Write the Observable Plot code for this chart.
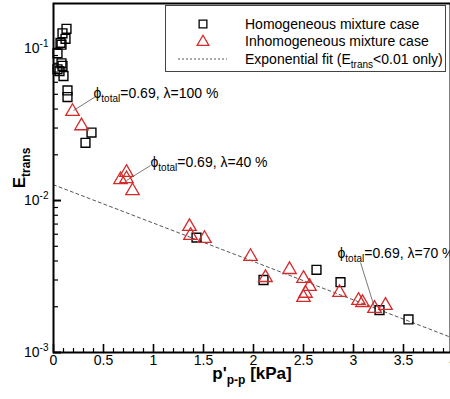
<!DOCTYPE html>
<html><head><meta charset="utf-8">
<script src="https://cdn.jsdelivr.net/npm/d3@7"></script>
<script src="https://cdn.jsdelivr.net/npm/@observablehq/plot@0.6"></script>
<style>
body{margin:0;background:#fff;}
#wrap{position:relative;width:450px;height:399px;overflow:hidden;font-family:Arial,"Liberation Sans",sans-serif;}
#legend{position:absolute;left:0;top:0;}
</style></head><body><div id="wrap"></div>
<script>
// Homogeneous mixture case (squares)
const homX = [0.13,0.09,0.12,0.07,0.08,0.04,0.08,0.09,0.04,0.06,0.10,0.14,0.14,0.38,0.32,1.43,2.10,2.63,2.87,3.26,3.55];
const homY = [0.135,0.126,0.116,0.109,0.106,0.093,0.080,0.077,0.073,0.071,0.066,0.053,0.048,0.028,0.024,0.0057,0.0030,0.0035,0.0029,0.0019,0.00165];
// Inhomogeneous mixture case (triangles)
const inhX = [0.19,0.28,0.73,0.67,0.73,0.79,1.36,1.37,1.51,1.97,2.12,2.36,2.50,2.56,2.52,2.50,2.86,3.05,3.09,3.21,3.32];
const inhY = [0.0385,0.031,0.0153,0.0137,0.0139,0.0116,0.00674,0.00589,0.00562,0.00428,0.00311,0.00351,0.00307,0.00272,0.00245,0.00230,0.00248,0.00220,0.00213,0.00195,0.00204];
// Exponential fit (E_trans < 0.01 only)
const fitX = [0, 4];
const fitY = [0.0127, 0.00124];
// ticks
const xTicks = [0,0.5,1,1.5,2,2.5,3,3.5,4];
const xTickLabels = ["0","0.5","1","1.5","2","2.5","3","3.5","4"];
const xMinor = [0.1,0.2,0.3,0.4,0.6,0.7,0.8,0.9,1.1,1.2,1.3,1.4,1.6,1.7,1.8,1.9,2.1,2.2,2.3,2.4,2.6,2.7,2.8,2.9,3.1,3.2,3.3,3.4,3.6,3.7,3.8,3.9];
const yTicks = [0.001,0.01,0.1];
const yTickLabels = ["10^{-3}","10^{-2}","10^{-1}"];
const yMinor = [0.002,0.003,0.004,0.005,0.006,0.007,0.008,0.009,0.02,0.03,0.04,0.05,0.06,0.07,0.08,0.09];
// annotations
const annoText = ["ϕ_{total}=0.69, λ=100 %","ϕ_{total}=0.69, λ=40 %","ϕ_{total}=0.69, λ=70 %"];
const annoX = [0.40,0.97,2.84];
const annoY = [0.0506,0.0178,0.00448];
const leadX1 = [0.20,0.73,3.07];
const leadY1 = [0.0391,0.01355,0.00391];
const leadX2 = [0.42,0.97,3.21];
const leadY2 = [0.0483,0.0170,0.00198];
// labels
const xLabel = "p'_{p-p} [kPa]";
const yLabel = "E_{trans}";
const legendLabels = ["Homogeneous mixture case","Inhomogeneous mixture case","Exponential fit (E_{trans}<0.01 only)"];

const RED = "#d42a2a";
const hom = homX.map((x,i)=>({x, y:homY[i]}));
const inh = inhX.map((x,i)=>({x, y:inhY[i]}));
const fit = fitX.map((x,i)=>({x, y:fitY[i]}));
const anno = annoText.map((t,i)=>({t, x:annoX[i], y:annoY[i]}));
const leads = leadX1.map((x1,i)=>({x1, y1:leadY1[i], x2:leadX2[i], y2:leadY2[i]}));
const yLab = yTicks.map((v,i)=>({v, t:yTickLabels[i]}));
const xLab = xTicks.map((v,i)=>({v, t:xTickLabels[i]}));

const chart = Plot.plot({
  width: 450, height: 399,
  marginLeft: 53, marginTop: 3, marginBottom: 47, marginRight: 0,
  x: {domain:[0,4], range:[53,453]},
  y: {type:"log", domain:[0.001, 0.198]},
  style: {fontFamily: "Arial, 'Liberation Sans', sans-serif", fontSize: "14px", background:"#fff", color:"#000"},
  marks: [
    Plot.line(fit, {x:"x", y:"y", stroke:"#555", strokeWidth:1, strokeDasharray:"3,3", clip:true}),
    Plot.link(leads, {x1:"x1", y1:"y1", x2:"x2", y2:"y2", stroke:"#555", strokeWidth:0.8}),
    Plot.dot(hom, {x:"x", y:"y", symbol:"square", r:5, stroke:"#000", strokeWidth:1.4, fill:"none"}),
    Plot.dot(inh, {x:"x", y:"y", symbol:"triangle", r:5, stroke:RED, strokeWidth:1.3, fill:"none"}),
    Plot.text(anno, {x:"x", y:"y", text:"t", textAnchor:"start", fontSize:14, fill:"#000"}),
    Plot.axisX(xMinor, {tickSize:-4, text:null, stroke:"#000", strokeWidth:1.2}),
    Plot.axisX(xTicks, {tickSize:-8, text:null, stroke:"#000", strokeWidth:1.6}),
    Plot.text(xLab, {x:"v", text:"t", frameAnchor:"bottom", lineAnchor:"top", textAnchor:"middle", dy:3, fontSize:14, fill:"#000"}),
    Plot.axisY(yMinor, {tickSize:-5, text:null, stroke:"#000", strokeWidth:1.2}),
    Plot.axisY(yTicks, {tickSize:-8, text:null, stroke:"#000", strokeWidth:2}),
    Plot.text(yLab, {y:"v", text:"t", frameAnchor:"left", dx:-5, textAnchor:"end", lineAnchor:"middle", fontSize:14, fill:"#000"}),
    Plot.frame({stroke:"#000", strokeWidth:2}),
    Plot.text([xLabel], {frameAnchor:"bottom", lineAnchor:"middle", textAnchor:"middle", dy:21, fontSize:17, fontWeight:"bold"}),
    Plot.text([yLabel], {frameAnchor:"left", textAnchor:"middle", lineAnchor:"middle", dx:-34, dy:-10, rotate:-90, fontSize:17, fontWeight:"bold"})
  ]
});

const wrap = document.getElementById("wrap");
wrap.appendChild(chart);

// legend overlay
const lg = d3.select(wrap).append("svg").attr("id","legend").attr("width",450).attr("height",80)
  .style("font-family","Arial, 'Liberation Sans', sans-serif").style("font-size","14px");
lg.append("rect").attr("x",165.5).attr("y",5.5).attr("width",280).attr("height",66).attr("fill","#fff").attr("stroke","#444").attr("stroke-width",1);
lg.append("path").attr("d", d3.symbol(d3.symbolSquare, 60)()).attr("transform","translate(203,24)").attr("fill","none").attr("stroke","#000").attr("stroke-width",1.3);
lg.append("path").attr("d", d3.symbol(d3.symbolTriangle, 60)()).attr("transform","translate(203,42)").attr("fill","none").attr("stroke",RED).attr("stroke-width",1.3);
lg.append("line").attr("x1",178).attr("x2",227).attr("y1",59).attr("y2",59).attr("stroke","#555").attr("stroke-dasharray","2,2");
legendLabels.forEach((t,i)=>{
  lg.append("text").attr("x",245).attr("y",24+i*17.5).attr("dy","0.35em").text(t);
});

// rich text: _{sub} and ^{sup}
const NS = "http://www.w3.org/2000/svg";
function rich(el){
  const s = el.textContent;
  if(!/[_^]\{/.test(s)) return;
  const fs = parseFloat(getComputedStyle(el).fontSize) || 14;
  const small = Math.round(fs*0.7);
  while(el.firstChild) el.removeChild(el.firstChild);
  const re = /([_^])\{([^}]*)\}/g;
  let last = 0, m;
  const add = (txt, dy, size) => {
    const t = document.createElementNS(NS,"tspan");
    t.textContent = txt;
    if (dy) t.setAttribute("dy", dy);
    if (size) t.setAttribute("font-size", size);
    el.appendChild(t);
  };
  let pending = 0;
  while((m = re.exec(s))){
    if(m.index > last){ add(s.slice(last,m.index), pending||null, null); pending=0; }
    const sh = m[1]==="_" ? fs*0.3 : -fs*0.4;
    add(m[2], pending+sh, small);
    pending = -sh;
    last = re.lastIndex;
  }
  if(last < s.length) add(s.slice(last), pending||null, null);
}
wrap.querySelectorAll("text").forEach(rich);
</script></body></html>
